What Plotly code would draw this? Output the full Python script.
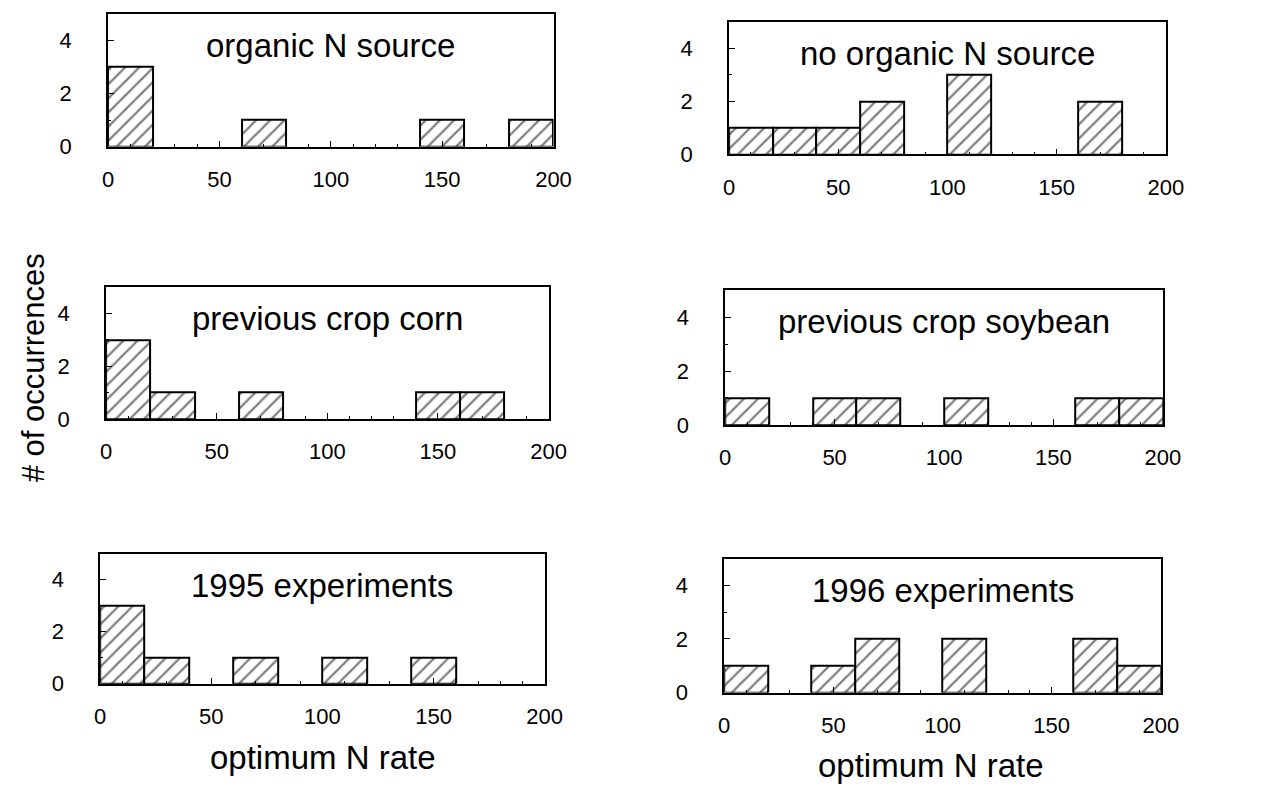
import plotly.graph_objects as go

# ---- data ----
bin_starts = [0, 20, 40, 60, 80, 100, 120, 140, 160, 180]
bin_width = 20
titles = ["organic N source", "no organic N source",
          "previous crop corn", "previous crop soybean",
          "1995 experiments", "1996 experiments"]
counts_organic = [3, 0, 0, 1, 0, 0, 0, 1, 0, 1]
counts_no_organic = [1, 1, 1, 2, 0, 3, 0, 0, 2, 0]
counts_corn = [3, 1, 0, 1, 0, 0, 0, 1, 1, 0]
counts_soybean = [1, 0, 1, 1, 0, 1, 0, 0, 1, 1]
counts_1995 = [3, 1, 0, 1, 0, 1, 0, 1, 0, 0]
counts_1996 = [1, 0, 1, 2, 0, 2, 0, 0, 2, 1]
x_ticks = [0, 50, 100, 150, 200]
y_ticks = [0, 2, 4]

all_counts = [counts_organic, counts_no_organic, counts_corn,
              counts_soybean, counts_1995, counts_1996]

W, H = 1276, 796
# panel boxes in pixels: (left, right, top, bottom)
boxes = [(104, 558, 14, 149), (737, 1182, 22, 157),
         (102, 553, 292, 426), (733, 1179, 295, 432),
         (96, 549, 563, 695), (732, 1177, 568, 704)]

FONT = "Liberation Sans, Arial, Helvetica, sans-serif"
fig = go.Figure()
layout = dict(
    width=W, height=H, margin=dict(l=0, r=0, t=0, b=0),
    paper_bgcolor="white", plot_bgcolor="white", showlegend=False,
    font=dict(family=FONT, color="black"), bargap=0,
)
annotations = []
for i, (cnts, title, box) in enumerate(zip(all_counts, titles, boxes)):
    n = i + 1
    xa = "x" if n == 1 else f"x{n}"
    ya = "y" if n == 1 else f"y{n}"
    xs = [s + bin_width / 2 for s, c in zip(bin_starts, cnts) if c > 0]
    ys = [c for c in cnts if c > 0]
    fig.add_trace(go.Bar(
        x=xs, y=ys, width=bin_width, xaxis=xa, yaxis=ya,
        marker=dict(color="white", line=dict(color="black", width=2),
                    pattern=dict(shape="/", fgcolor="black", bgcolor="white",
                                 size=10, solidity=0.22)),
    ))
    l, r, t, b = box
    axis_common = dict(showgrid=False, zeroline=False, showline=True,
                       linecolor="black", linewidth=1.8, mirror=True,
                       ticks="inside", ticklen=6, tickcolor="black",
                       tickfont=dict(size=22, family=FONT, color="black"))
    layout["xaxis" if n == 1 else f"xaxis{n}"] = dict(
        domain=[l / W, r / W], anchor=ya, range=[0, 200],
        tickvals=x_ticks, ticklabelstandoff=12,
        minor=dict(ticks="inside", ticklen=3, dtick=10, tickcolor="black"),
        **axis_common)
    layout["yaxis" if n == 1 else f"yaxis{n}"] = dict(
        domain=[1 - b / H, 1 - t / H], anchor=xa, range=[0, 5],
        tickvals=y_ticks, ticklabelstandoff=30,
        minor=dict(ticks="inside", ticklen=3, dtick=1, tickcolor="black"),
        **axis_common)
    annotations.append(dict(
        text=title, xref=f"{xa} domain", yref=f"{ya} domain",
        x=0.5, y=1 - 32 / (b - t), xanchor="center", yanchor="middle",
        showarrow=False, font=dict(size=33, family=FONT, color="black")))

annotations.append(dict(text="optimum N rate", xref="paper", yref="paper",
                        x=323 / W, y=1 - 770 / H, xanchor="center", yanchor="middle",
                        showarrow=False, font=dict(size=33, family=FONT)))
annotations.append(dict(text="optimum N rate", xref="paper", yref="paper",
                        x=943 / W, y=1 - 778 / H, xanchor="center", yanchor="middle",
                        showarrow=False, font=dict(size=33, family=FONT)))
annotations.append(dict(text="# of occurrences", xref="paper", yref="paper",
                        x=28 / W, y=1 - 374 / H, xanchor="center", yanchor="middle",
                        textangle=-90, showarrow=False, font=dict(size=31, family=FONT)))
layout["annotations"] = annotations
fig.update_layout(**layout)
fig.write_html("out.html")
